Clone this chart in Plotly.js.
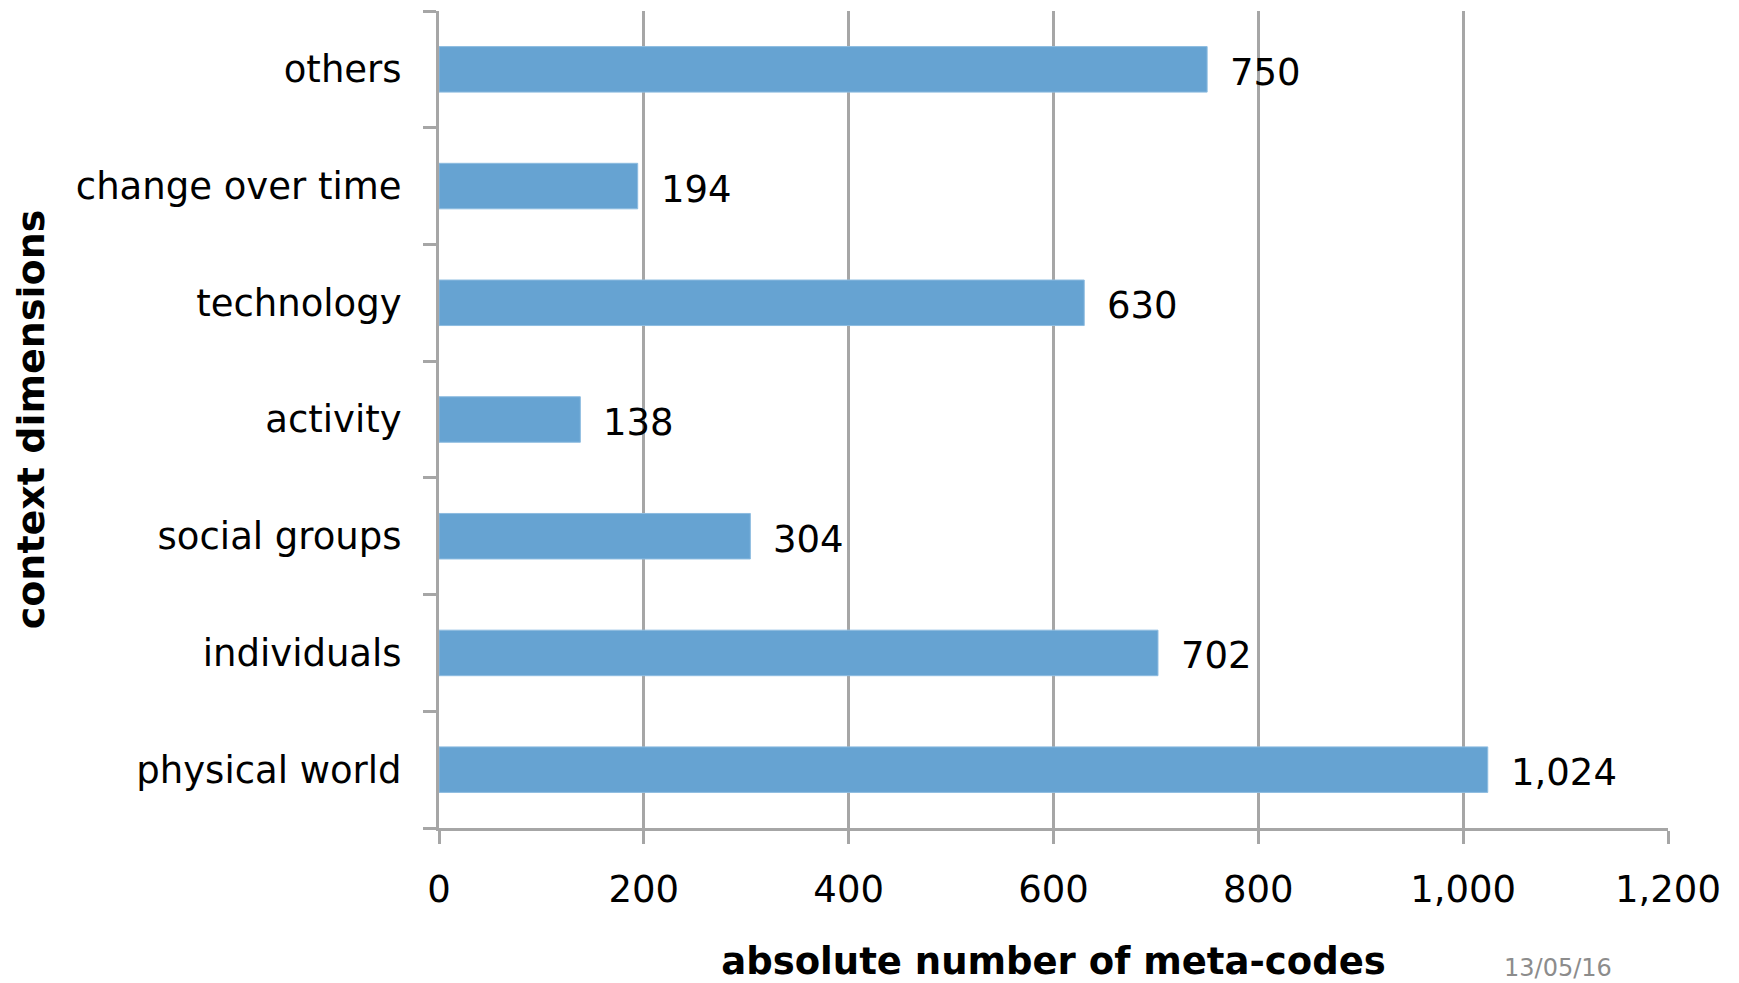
<!DOCTYPE html>
<html>
<head>
<meta charset="utf-8">
<script src="https://cdn.plot.ly/plotly-3.0.1.min.js"></script>
<style>html,body{margin:0;padding:0;background:#fff;}#chart{width:1739px;height:983px;}</style>
</head>
<body>
<div id="chart"></div>
<script>
const categories = ["physical world", "individuals", "social groups", "activity", "technology", "change over time", "others"];
const values = [1024, 702, 304, 138, 630, 194, 750];
const xTickVals = [0, 200, 400, 600, 800, 1000, 1200];
const xTitle = "absolute number of meta-codes";
const yTitle = "context dimensions";
const dateNote = "13/05/16";

const FONT = "DejaVu Sans, Verdana, sans-serif";
const GRID = "#A6A6A6";

const trace = {
  type: "bar",
  orientation: "h",
  x: values,
  y: categories,
  marker: { color: "#66A3D2", line: { color: "#8DBCE0", width: 1 } },
  width: 0.39,
  hoverinfo: "x+y"
};

const annotations = categories.map((c, i) => ({
  x: values[i], y: c, xref: "x", yref: "y",
  text: values[i].toLocaleString("en-US"),
  showarrow: false, xanchor: "left", yanchor: "middle", xshift: 21, yshift: -3,
  font: { family: FONT, size: 37, color: "#000" }
}));
annotations.push({
  x: 0.9105, y: -0.171, xref: "paper", yref: "paper",
  text: dateNote, showarrow: false, xanchor: "center", yanchor: "middle",
  font: { family: FONT, size: 24, color: "#8C8C8C" }
});

const layout = {
  width: 1739, height: 983,
  margin: { l: 439, r: 71, t: 11, b: 155 },
  paper_bgcolor: "#fff", plot_bgcolor: "#fff",
  showlegend: false,
  font: { family: FONT, color: "#000" },
  xaxis: {
    range: [0, 1200],
    tickvals: xTickVals,
    tickformat: ",d",
    showgrid: true, gridcolor: GRID, gridwidth: 3,
    showline: true, linecolor: GRID, linewidth: 3,
    zeroline: false,
    ticks: "outside", ticklen: 13, tickwidth: 3, tickcolor: GRID,
    tickfont: { family: FONT, size: 37, color: "#000" },
    ticklabelstandoff: 14,
    title: { text: xTitle, font: { family: FONT, size: 37, color: "#000", weight: "bold" }, standoff: 53 },
    fixedrange: true
  },
  yaxis: {
    type: "category",
    categoryorder: "array", categoryarray: categories,
    showgrid: false,
    showline: true, linecolor: GRID, linewidth: 3,
    zeroline: false,
    ticks: "outside", tickson: "boundaries", ticklen: 13, tickwidth: 3, tickcolor: GRID,
    tickfont: { family: FONT, size: 37, color: "#000" },
    ticklabelstandoff: 27,
    title: { text: yTitle, font: { family: FONT, size: 38, color: "#000", weight: "bold" }, standoff: 20 },
    fixedrange: true
  },
  annotations: annotations
};

Plotly.newPlot("chart", [trace], layout, { displayModeBar: false, staticPlot: true });
</script>
</body>
</html>
